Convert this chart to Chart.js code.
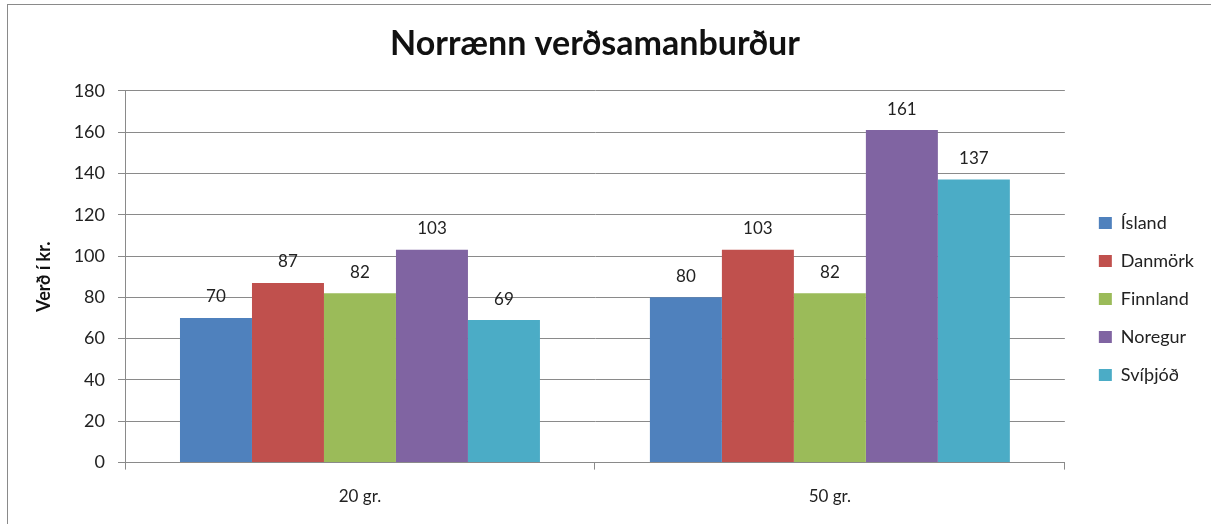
<!DOCTYPE html>
<html>
<head>
<meta charset="utf-8">
<script src="https://cdn.jsdelivr.net/npm/chart.js@4.4.1/dist/chart.umd.min.js"></script>
<style>
  html, body { margin: 0; padding: 0; background: #fff; }
  #wrap { position: relative; width: 1211px; height: 524px; overflow: hidden; }
  #frame { position: absolute; left: 7px; top: 4px; width: 1240px; height: 560px; border: 1px solid #8a8a8a; box-sizing: border-box; }
  #c { position: absolute; left: 0; top: 0; }
</style>
</head>
<body>
<div id="wrap">
  <div id="frame"></div>
  <canvas id="c" width="1211" height="524"></canvas>
</div>
<script>
// Norrænn verðsamanburður — clustered bars, Excel-2007 palette.
const categories = ['20 gr.', '50 gr.'];
const countries = ['Ísland', 'Danmörk', 'Finnland', 'Noregur', 'Svíþjóð'];
const islandVals = [70, 80];
const danmorkVals = [87, 103];
const finnlandVals = [82, 82];
const noregurVals = [103, 161];
const svithjodVals = [69, 137];
const yTicks = [0, 20, 40, 60, 80, 100, 120, 140, 160, 180];

const seriesVals = [islandVals, danmorkVals, finnlandVals, noregurVals, svithjodVals];
const colours = ['#4F81BD', '#C0504D', '#9BBB59', '#8064A2', '#4BACC6'];
const FONT = 'Lato, "Open Sans", sans-serif';
const GRID = '#8a8a8a';

// value labels above each bar, placed from the bar elements themselves
const barLabels = {
    id: 'barLabels',
    afterDatasetsDraw(chart) {
        const ctx = chart.ctx;
        ctx.save();
        ctx.font = '17px ' + FONT;
        ctx.fillStyle = '#222';
        ctx.textAlign = 'center';
        ctx.textBaseline = 'middle';
        chart.data.datasets.forEach((ds, i) => {
            chart.getDatasetMeta(i).data.forEach((bar, j) => {
                ctx.fillText(String(ds.data[j]), bar.x, bar.y - 21);
            });
        });
        ctx.restore();
    },
};

// Excel puts the legend a little lower and further right than Chart.js does
const legendNudge = {
    id: 'legendNudge',
    afterLayout(chart) {
        const lg = chart.legend;
        if (!lg) return;
        lg.top += 37; lg.bottom += 37;
        lg.left += 14; lg.right += 14;
    },
};

new Chart(document.getElementById('c'), {
    type: 'bar',
    data: {
        labels: categories,
        datasets: countries.map((name, i) => ({
            label: name,
            data: seriesVals[i],
            backgroundColor: colours[i],
            borderWidth: 0,
            categoryPercentage: 0.766,
            barPercentage: 1.0,
        })),
    },
    options: {
        responsive: false,
        animation: false,
        layout: { padding: { left: 0, right: 21, top: 0, bottom: 0 } },
        plugins: {
            title: {
                display: true,
                text: 'Norrænn verðsamanburður',
                color: '#111',
                font: { family: FONT, size: 34, weight: 'bold' },
                padding: { top: 24, bottom: 26 },
            },
            legend: {
                position: 'right',
                labels: {
                    color: '#222',
                    font: { family: FONT, size: 18 },
                    boxWidth: 13,
                    boxHeight: 12,
                    padding: 20,
                },
            },
            tooltip: { enabled: false },
        },
        scales: {
            x: {
                grid: { offset: true, drawOnChartArea: false, drawTicks: true, tickLength: 7, color: GRID },
                border: { color: GRID },
                ticks: { color: '#222', font: { family: FONT, size: 17 }, padding: 17 },
            },
            y: {
                min: 0,
                max: 180,
                afterBuildTicks: (s) => { s.ticks = yTicks.map((v) => ({ value: v })); },
                afterFit: (s) => { s.width = 125; },
                grid: { color: GRID, tickLength: 7 },
                border: { color: GRID },
                ticks: { color: '#222', font: { family: FONT, size: 18 }, padding: 13 },
                title: {
                    display: true,
                    text: 'Verð í kr.',
                    color: '#111',
                    font: { family: FONT, size: 18, weight: 'bold' },
                    padding: { top: 33 },
                },
            },
        },
    },
    plugins: [barLabels, legendNudge],
});
</script>
</body>
</html>
